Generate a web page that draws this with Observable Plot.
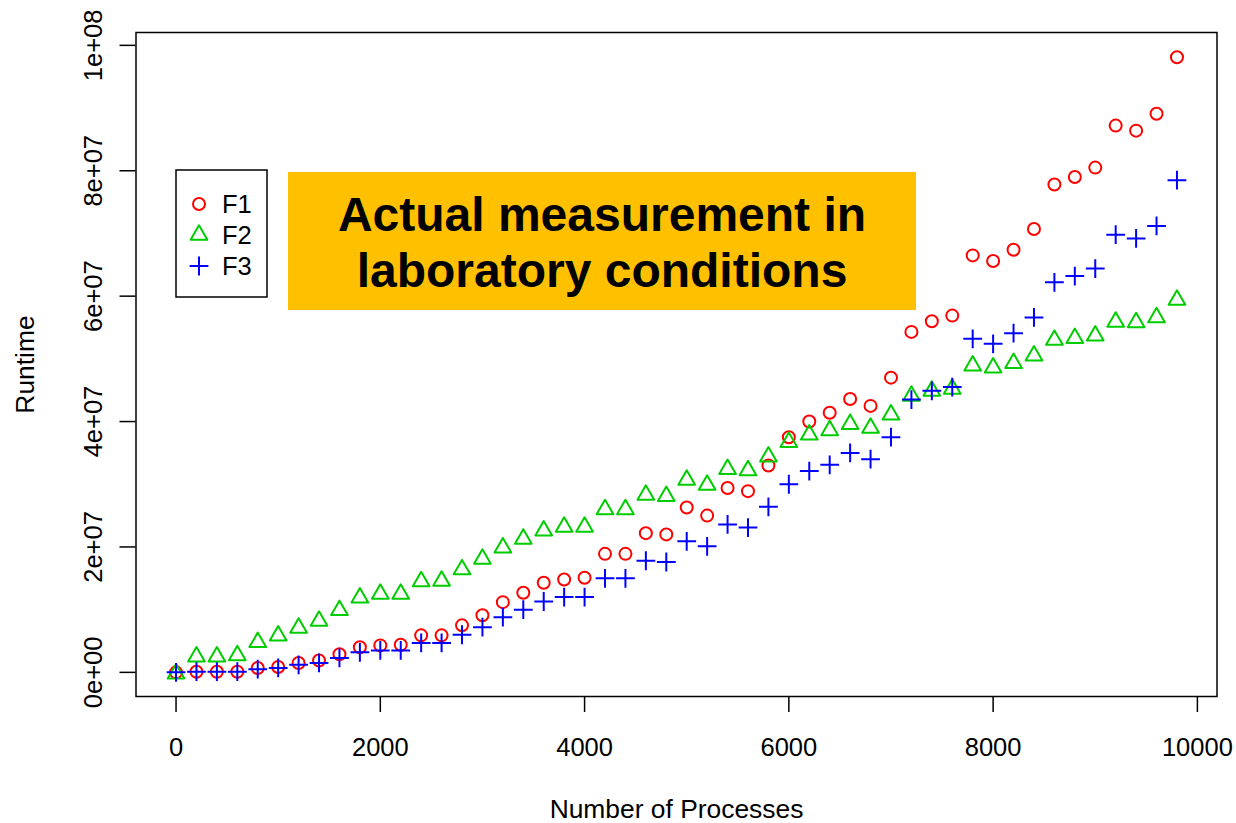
<!DOCTYPE html>
<html><head><meta charset="utf-8">
<script src="https://cdn.jsdelivr.net/npm/d3@7"></script>
<script src="https://cdn.jsdelivr.net/npm/@observablehq/plot@0.6"></script>
<style>
html,body{margin:0;padding:0;background:#fff;}
#chart{width:1236px;height:823px;}
</style></head><body><div id="chart"></div>
<script>
// Number of processes (x)
const processes = [0,200,400,600,800,1000,1200,1400,1600,1800,2000,2200,2400,2600,2800,3000,3200,3400,3600,3800,4000,4200,4400,4600,4800,5000,5200,5400,5600,5800,6000,6200,6400,6600,6800,7000,7200,7400,7600,7800,8000,8200,8400,8600,8800,9000,9200,9400,9600,9800];
// Runtime, in units of 1e7
const f1 = [0,0.01,0.01,0.01,0.07,0.085,0.15,0.19,0.29,0.40,0.43,0.44,0.59,0.59,0.75,0.91,1.12,1.27,1.43,1.48,1.51,1.89,1.89,2.22,2.20,2.63,2.50,2.94,2.89,3.30,3.75,4.00,4.14,4.36,4.25,4.70,5.43,5.60,5.69,6.65,6.56,6.74,7.07,7.78,7.90,8.05,8.72,8.64,8.91,9.81];
const f2 = [-0.02,0.25,0.25,0.27,0.48,0.585,0.71,0.82,0.99,1.19,1.25,1.25,1.45,1.46,1.64,1.81,1.99,2.13,2.26,2.32,2.32,2.60,2.60,2.83,2.81,3.07,2.99,3.24,3.22,3.44,3.67,3.79,3.86,3.96,3.90,4.11,4.41,4.49,4.52,4.89,4.86,4.93,5.05,5.30,5.33,5.37,5.59,5.58,5.66,5.94];
const f3 = [0,0.01,0.01,0.01,0.05,0.07,0.12,0.15,0.23,0.32,0.35,0.35,0.47,0.47,0.60,0.72,0.88,1.00,1.13,1.20,1.20,1.50,1.50,1.78,1.76,2.09,2.01,2.36,2.31,2.64,3.00,3.21,3.31,3.50,3.40,3.75,4.35,4.49,4.55,5.32,5.24,5.41,5.66,6.22,6.32,6.44,6.98,6.92,7.12,7.85];
const seriesNames = ["F1","F2","F3"];
const xTicks = [0,2000,4000,6000,8000,10000];
const yTicks = [0,2e7,4e7,6e7,8e7,1e8];
const yTickLabels = ["0e+00","2e+07","4e+07","6e+07","8e+07","1e+08"];
const xTitle = "Number of Processes";
const yTitle = "Runtime";
const annotationLines = ["Actual measurement in","laboratory conditions"];

const seriesValues = [f1, f2, f3];
const colors = ["#FF0000", "#00CD00", "#0000FF"];
const symbols = ["circle", "triangle", "plus"];
const radii = [6.0, 6.2, 6.1];
const tables = seriesValues.map((vals, k) => processes.map((p, i) => ({x: p, y: vals[i] * 1e7, s: seriesNames[k]})));

const FONT = "'Liberation Sans', Arial, Helvetica, sans-serif";

const chart = Plot.plot({
  width: 1236,
  height: 823,
  marginLeft: 135.5,
  marginRight: 19.5,
  marginTop: 32,
  marginBottom: 127,
  style: {fontFamily: FONT, fontSize: "25.5px", color: "black", background: "white"},
  x: {domain: [-392, 10192]},
  y: {domain: [-0.385e7, 10.205e7]},
  marks: [
    Plot.axisX({ticks: xTicks, tickSize: 16, tickPadding: 25, fontSize: 25.5, label: null, strokeWidth: 1.5, tickFormat: d => String(d)}),
    Plot.axisY({ticks: yTicks, tickFormat: d => yTickLabels[yTicks.indexOf(d)], tickRotate: -90, tickSize: 16, tickPadding: 18, fontSize: 25.5, label: null, strokeWidth: 1.5}),
    ...tables.map((t, k) => Plot.dot(t, {x: "x", y: "y", symbol: symbols[k], r: radii[k], stroke: colors[k], fill: "none", strokeWidth: 2, strokeLinejoin: "round"})),
    Plot.frame({stroke: "black", strokeWidth: 1.5}),
    Plot.text([xTitle], {frameAnchor: "bottom", dy: 121, lineAnchor: "bottom", textAnchor: "middle", fontSize: 26.4}),
    Plot.text([yTitle], {frameAnchor: "left", dx: -102, rotate: -90, lineAnchor: "bottom", textAnchor: "middle", fontSize: 26.4})
  ]
});
document.getElementById("chart").appendChild(chart);

// Legend and annotation box drawn in pixel space
const svg = d3.select(chart);
const lg = svg.append("g");
lg.append("rect").attr("x", 176).attr("y", 170).attr("width", 91).attr("height", 127)
  .attr("fill", "white").attr("stroke", "black").attr("stroke-width", 1.5);
const d3Symbols = [d3.symbolCircle, d3.symbolTriangle, d3.symbolPlus];
seriesNames.forEach((name, k) => {
  const yy = 204 + k * 31;
  lg.append("path")
    .attr("d", d3.symbol(d3Symbols[k], Math.PI * radii[k] * radii[k])())
    .attr("transform", `translate(199,${yy})`)
    .attr("fill", "none").attr("stroke", colors[k]).attr("stroke-width", 2).attr("stroke-linejoin", "round");
  lg.append("text").attr("x", 222).attr("y", yy + 9).attr("text-anchor", "start")
    .attr("font-family", FONT).attr("font-size", 25.5).attr("fill", "black").text(name);
});
const ann = svg.append("g");
ann.append("rect").attr("x", 288).attr("y", 172).attr("width", 628).attr("height", 138).attr("fill", "#FFC000");
annotationLines.forEach((line, i) => {
  ann.append("text").attr("x", 602).attr("y", 231 + i * 56)
    .attr("text-anchor", "middle").attr("font-family", FONT).attr("font-weight", "bold")
    .attr("font-size", 48).attr("fill", "black").text(line);
});
</script></body></html>
